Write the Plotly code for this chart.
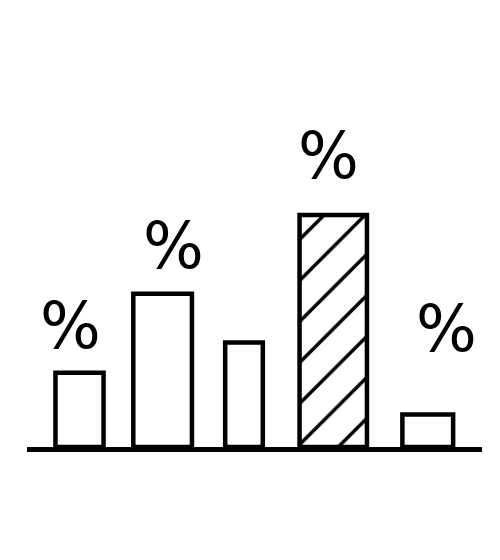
import plotly.graph_objects as go

# sketch of a bar chart: five bars, percent signs above four of them
categories = ['A', 'B', 'C', 'D', 'E']
values = [32, 66, 45, 100, 14]
labels = ['%', '%', '', '%', '%']
highlight = ['', '', '', '/', '']  # hatched bar

bar_widths = [0.55, 0.67, 0.43, 0.77, 0.58]
bar_nudge = [0, -0.05, -0.12, -0.10, -0.02]   # hand-drawn spacing isn't even
bar_offsets = [-w / 2 + n for w, n in zip(bar_widths, bar_nudge)]
label_shift_y = [47, 48, 0, 59, 86]
label_shift_x = [-9, 6, 0, -14, 17]

fig = go.Figure()

fig.add_trace(go.Bar(
    x=categories,
    y=values,
    width=bar_widths,
    offset=bar_offsets,
    marker=dict(
        color='white',
        line=dict(color='black', width=4.5),
        pattern=dict(shape=highlight, fgcolor='black', bgcolor='white',
                     fgopacity=1, size=29, solidity=0.12),
    ),
    hoverinfo='skip',
))

for i, cat in enumerate(categories):
    if not labels[i]:
        continue
    fig.add_annotation(
        x=cat, y=values[i], text=labels[i],
        showarrow=False, yanchor='middle',
        xshift=label_shift_x[i], yshift=label_shift_y[i],
        font=dict(family='DejaVu Sans', size=64, color='black'),
    )

fig.update_layout(
    width=500,
    height=560,
    margin=dict(l=19, r=26, t=12, b=121),
    paper_bgcolor='white',
    plot_bgcolor='white',
    showlegend=False,
    xaxis=dict(
        range=[-0.6, 4.6],
        showline=True, linecolor='black', linewidth=5,
        showticklabels=False, ticks='', showgrid=False, zeroline=False,
    ),
    yaxis=dict(
        range=[0, 184],
        visible=False, showgrid=False, zeroline=False,
    ),
)

fig.write_html("out.html")
